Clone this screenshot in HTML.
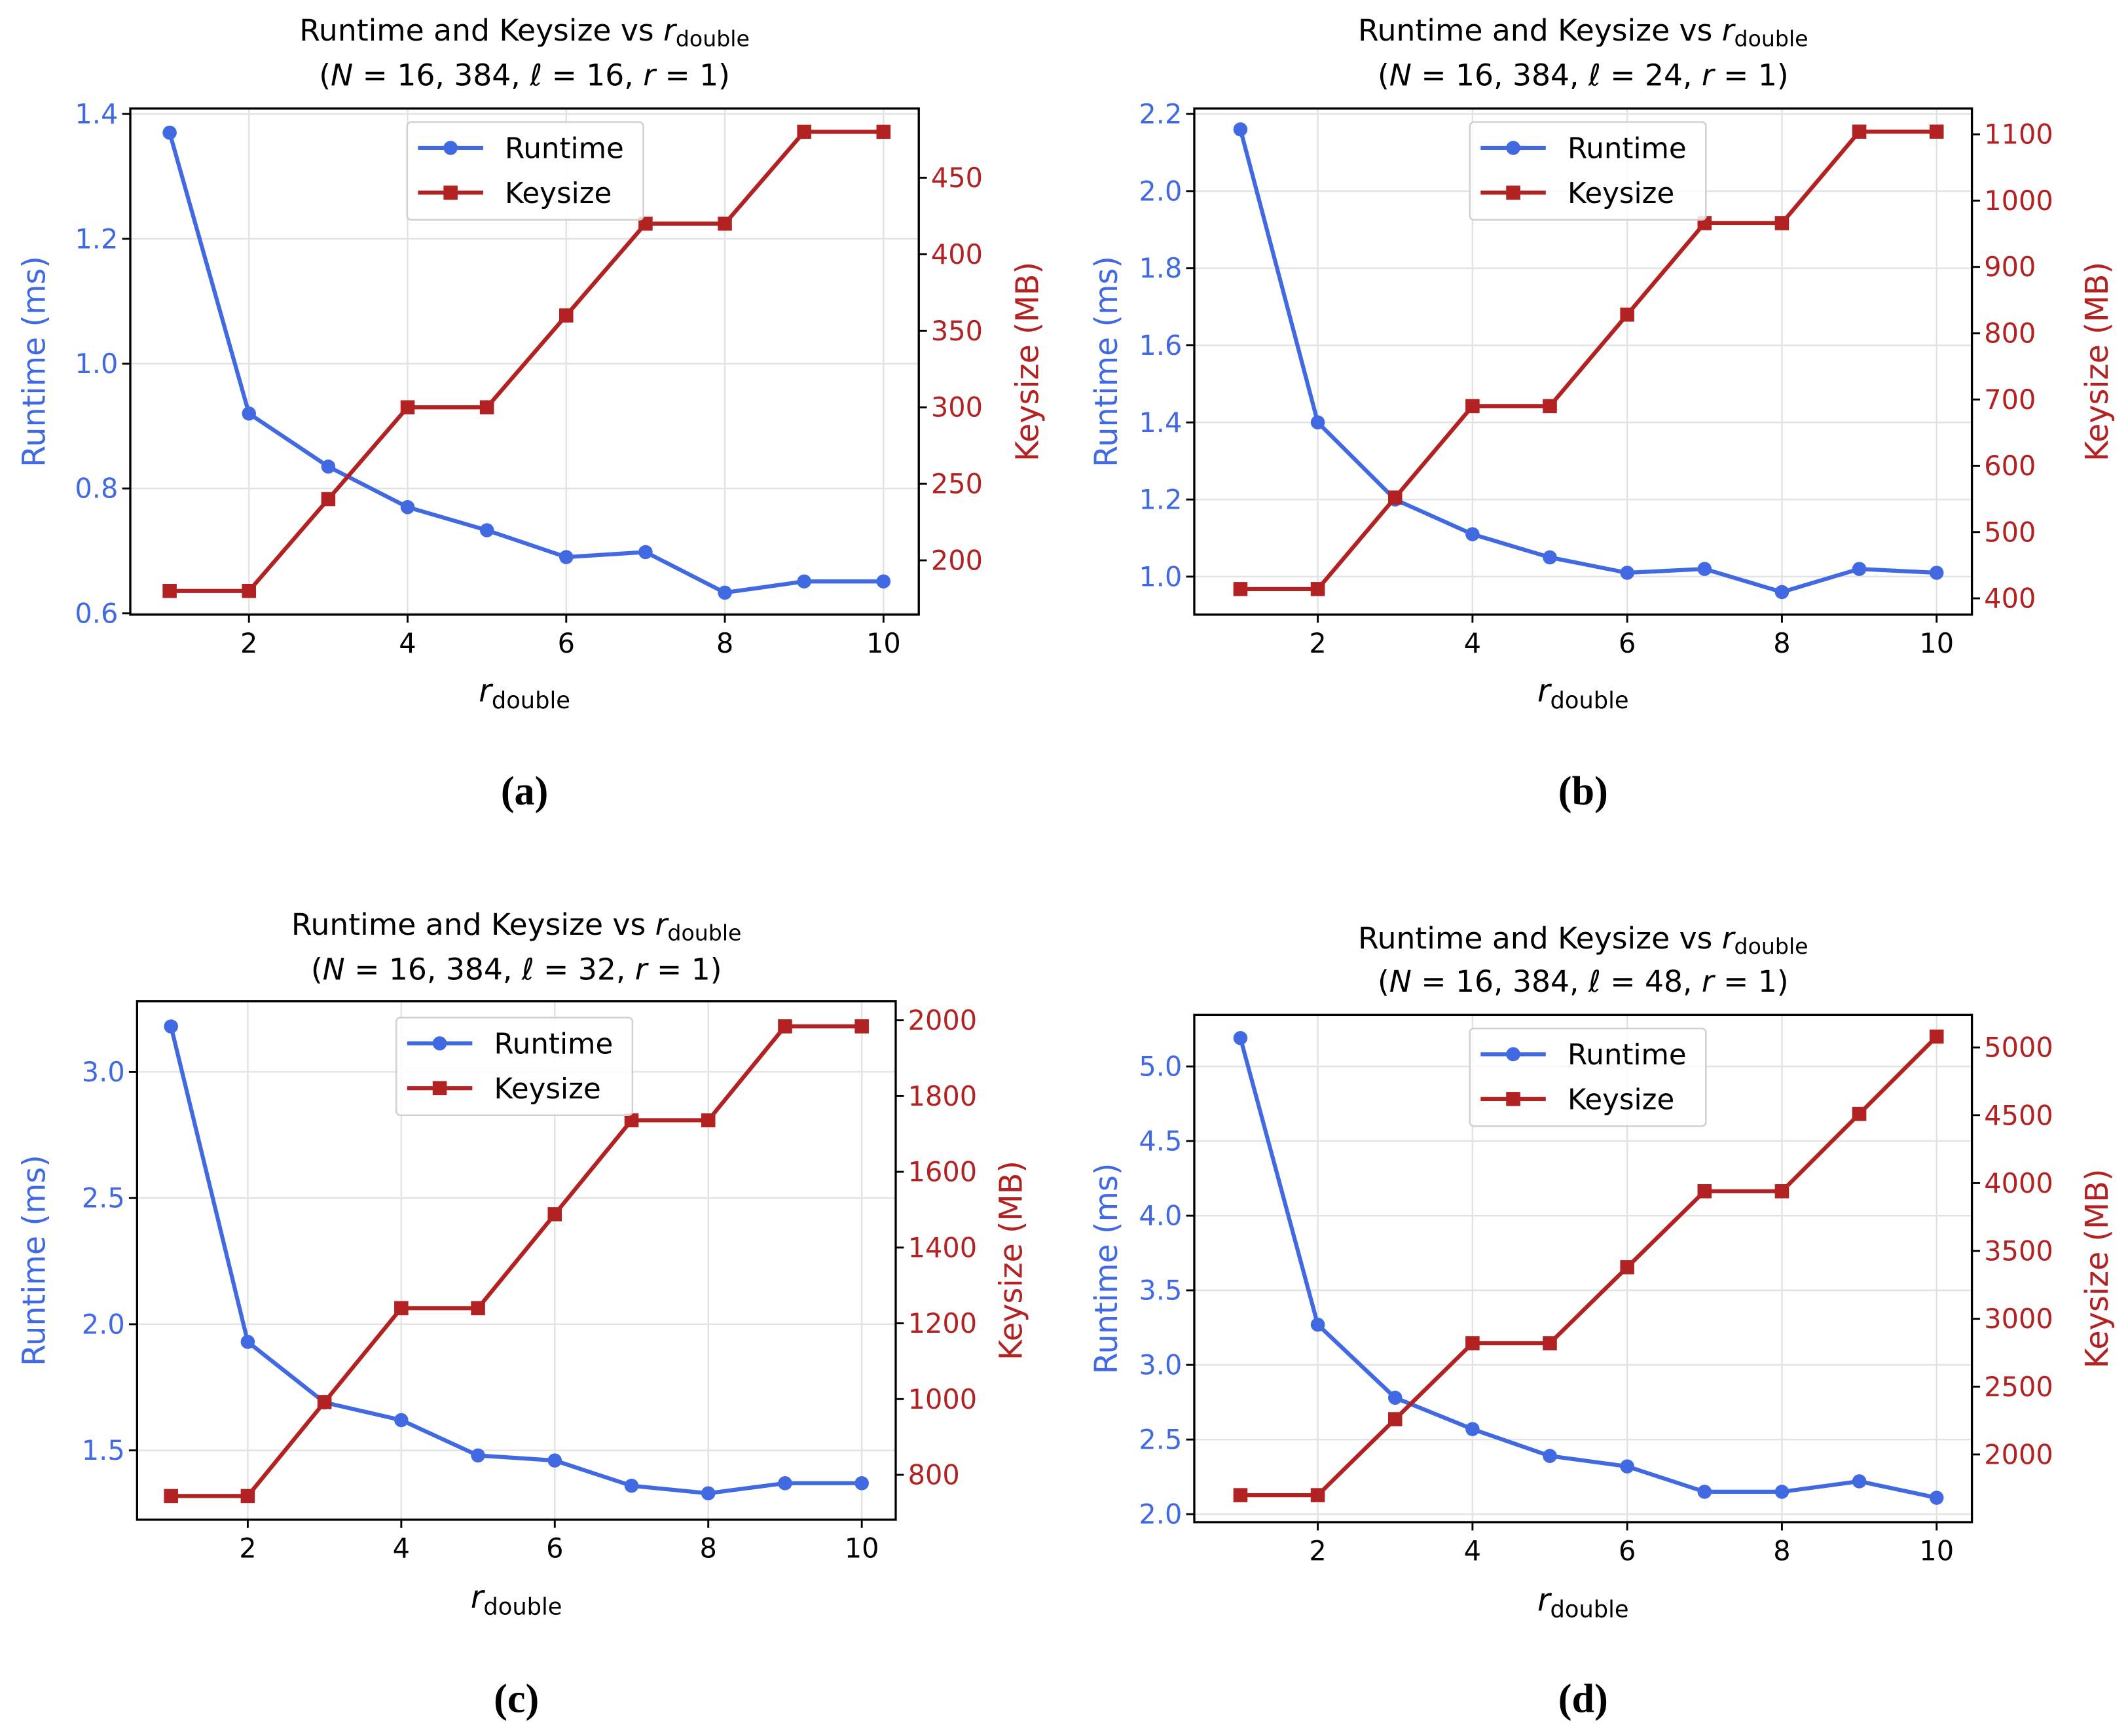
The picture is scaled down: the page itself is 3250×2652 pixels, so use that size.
<!DOCTYPE html>
<html><head><meta charset="utf-8"><style>
html,body{margin:0;padding:0;background:#fff}
svg{display:block}
text{font-family:"DejaVu Sans","Liberation Sans",sans-serif}
text.cap{font-family:"Liberation Serif","DejaVu Serif",serif;font-weight:bold}
</style></head><body>
<svg id="fig" width="3250" height="2652" viewBox="0 0 1568 1279.5" xmlns="http://www.w3.org/2000/svg"></svg>
<script>
const xCats = [1,2,3,4,5,6,7,8,9,10];
const xTicks = [2,4,6,8,10];
const runtimeA = [1.37,0.92,0.835,0.77,0.733,0.69,0.698,0.633,0.651,0.651];
const keysizeA = [180,180,240,300,300,360,420,420,480,480];
const runtimeB = [2.16,1.40,1.20,1.11,1.05,1.01,1.02,0.96,1.02,1.01];
const keysizeB = [414,414,552,690,690,828,966,966,1104,1104];
const runtimeC = [3.18,1.93,1.69,1.62,1.48,1.46,1.36,1.33,1.37,1.37];
const keysizeC = [744,744,992,1240,1240,1488,1736,1736,1984,1984];
const runtimeD = [5.19,3.27,2.78,2.57,2.39,2.32,2.15,2.15,2.22,2.11];
const keysizeD = [1700,1700,2260,2820,2820,3380,3940,3940,4510,5080];
const leftTicksA = [0.6,0.8,1.0,1.2,1.4];
const rightTicksA = [200,250,300,350,400,450];
const leftTicksB = [1.0,1.2,1.4,1.6,1.8,2.0,2.2];
const rightTicksB = [400,500,600,700,800,900,1000,1100];
const leftTicksC = [1.5,2.0,2.5,3.0];
const rightTicksC = [800,1000,1200,1400,1600,1800,2000];
const leftTicksD = [2.0,2.5,3.0,3.5,4.0,4.5,5.0];
const rightTicksD = [2000,2500,3000,3500,4000,4500,5000];

const NS='http://www.w3.org/2000/svg';
const svg=document.getElementById('fig');
function mk(tag,attrs,parent){const e=document.createElementNS(NS,tag);for(const k in attrs)e.setAttribute(k,attrs[k]);(parent||svg).appendChild(e);return e;}

const panels=[
 {id:'a',ax:[96,677,80,453],x1:125,x10:651,L:[1.4,84,0.6,452],R:[450,131,200,413],lt:leftTicksA,rt:rightTicksA,run:runtimeA,key:keysizeA,ell:16,tY:[22,55],xl:512,cap:583,yl:25,yr:757,leg:[300,90]},
 {id:'b',ax:[880,1453,80,453],x1:914,x10:1427,L:[2.2,84,1.0,425],R:[1100,99,400,441],lt:leftTicksB,rt:rightTicksB,run:runtimeB,key:keysizeB,ell:24,tY:[22,55],xl:512,cap:583,yl:815,yr:1545,leg:[1083,90]},
 {id:'c',ax:[101,660,738,1120],x1:126,x10:635,L:[3.0,790,1.5,1069],R:[2000,752,800,1087],lt:leftTicksC,rt:rightTicksC,run:runtimeC,key:keysizeC,ell:32,tY:[681,714],xl:1180,cap:1252,yl:25,yr:745,leg:[292,750]},
 {id:'d',ax:[880,1453,748,1122],x1:914,x10:1427,L:[5.0,786,2.0,1116],R:[5000,772,2000,1072],lt:leftTicksD,rt:rightTicksD,run:runtimeD,key:keysizeD,ell:48,tY:[691,723],xl:1182,cap:1252,yl:815,yr:1545,leg:[1083,758]}
];
const BLUE='#4169e1', RED='#b22222';

panels.forEach(p=>{
 const [l,r,t,b]=p.ax;
 const g=mk('g',{});
 
 
 const xs=v=>p.x1+(v-1)*(p.x10-p.x1)/9;
 const yL=v=>p.L[1]+(v-p.L[0])*(p.L[3]-p.L[1])/(p.L[2]-p.L[0]);
 const yR=v=>p.R[1]+(v-p.R[0])*(p.R[3]-p.R[1])/(p.R[2]-p.R[0]);
 xTicks.forEach(v=>{const ln=mk('line',{x1:xs(v),x2:xs(v),y1:t,y2:b,stroke:'#e3e3e3','stroke-width':1.2},g);
  });
 p.lt.forEach(v=>{const ln=mk('line',{x1:l,x2:r,y1:yL(v),y2:yL(v),stroke:'#e3e3e3','stroke-width':1.2},g);
  });
 const rp=p.run.map((v,i)=>xs(xCats[i])+','+yL(v)).join(' ');
 const rl=mk('polyline',{points:rp,fill:'none',stroke:BLUE,'stroke-width':3},g);
 
 p.run.forEach((v,i)=>{const c=mk('circle',{cx:xs(xCats[i]),cy:yL(v),r:5.2,fill:BLUE},g);
  });
 const kp=p.key.map((v,i)=>xs(xCats[i])+','+yR(v)).join(' ');
 const kl=mk('polyline',{points:kp,fill:'none',stroke:RED,'stroke-width':3},g);
 
 p.key.forEach((v,i)=>{const s=mk('rect',{x:xs(xCats[i])-5.2,y:yR(v)-5.2,width:10.4,height:10.4,fill:RED},g);
  });
 const fr=mk('rect',{x:l,y:t,width:r-l,height:b-t,fill:'none',stroke:'#000','stroke-width':1.6},g);
 
 xTicks.forEach(v=>{mk('line',{x1:xs(v),x2:xs(v),y1:b,y2:b+6,stroke:'#000','stroke-width':1.4},g);
  const tx=mk('text',{x:xs(v),y:b+28,'font-size':20,'text-anchor':'middle',fill:'#000'},g);tx.textContent=v;
  });
 p.lt.forEach(v=>{mk('line',{x1:l-6,x2:l,y1:yL(v),y2:yL(v),stroke:'#000','stroke-width':1.4},g);
  const tx=mk('text',{x:l-9,y:yL(v)+7,'font-size':20,'text-anchor':'end',fill:BLUE},g);tx.textContent=v.toFixed(1);
  });
 p.rt.forEach(v=>{mk('line',{x1:r,x2:r+6,y1:yR(v),y2:yR(v),stroke:'#000','stroke-width':1.4},g);
  const tx=mk('text',{x:r+9,y:yR(v)+7,'font-size':20,'text-anchor':'start',fill:RED},g);tx.textContent=v;
  });
 const cx=(l+r)/2;
 const t1=mk('text',{x:cx,y:p.tY[0]+8,'font-size':22,'text-anchor':'middle'},g);
 t1.innerHTML='Runtime and Keysize vs <tspan font-style="italic">r</tspan><tspan font-size="16" dy="4">double</tspan>';
 
 const t2=mk('text',{x:cx,y:p.tY[1]+8,'font-size':22,'text-anchor':'middle'},g);
 t2.innerHTML='(<tspan font-style="italic">N</tspan> = 16, 384, <tspan font-style="italic">ℓ</tspan> = '+p.ell+', <tspan font-style="italic">r</tspan> = 1)';
 
 const xl=mk('text',{x:cx,y:p.xl+5,'font-size':23,'text-anchor':'middle'},g);
 xl.innerHTML='<tspan font-style="italic">r</tspan><tspan font-size="17" dy="5">double</tspan>';
 
 const ym=(t+b)/2;
 const yl=mk('text',{x:p.yl,y:ym,'font-size':23,'text-anchor':'middle',fill:BLUE,transform:'rotate(-90 '+p.yl+' '+ym+')',dy:8},g);
 yl.textContent='Runtime (ms)';
 const yr=mk('text',{x:p.yr,y:ym,'font-size':23,'text-anchor':'middle',fill:RED,transform:'rotate(-90 '+p.yr+' '+ym+')',dy:8},g);
 yr.textContent='Keysize (MB)';
 const [lx,ly]=p.leg;
 const lg=mk('g',{},g);
 mk('rect',{x:lx,y:ly,width:174,height:72,rx:3,fill:'#fff','fill-opacity':0.85,stroke:'#d0d0d0','stroke-width':1.2},lg);
 mk('line',{x1:lx+8,x2:lx+56,y1:ly+19,y2:ly+19,stroke:BLUE,'stroke-width':3},lg);
 mk('circle',{cx:lx+32,cy:ly+19,r:5.2,fill:BLUE},lg);
 const e1=mk('text',{x:lx+72,y:ly+26.5,'font-size':21},lg);e1.textContent='Runtime';
 
 mk('line',{x1:lx+8,x2:lx+56,y1:ly+52,y2:ly+52,stroke:RED,'stroke-width':3},lg);
 mk('rect',{x:lx+26.8,y:ly+46.8,width:10.4,height:10.4,fill:RED},lg);
 const e2=mk('text',{x:lx+72,y:ly+59.5,'font-size':21},lg);e2.textContent='Keysize';
 
 const cp=mk('text',{x:cx,y:p.cap+10,'font-size':30,'text-anchor':'middle','class':'cap'},g);
 cp.textContent='('+p.id+')';
});
</script>
</body></html>
